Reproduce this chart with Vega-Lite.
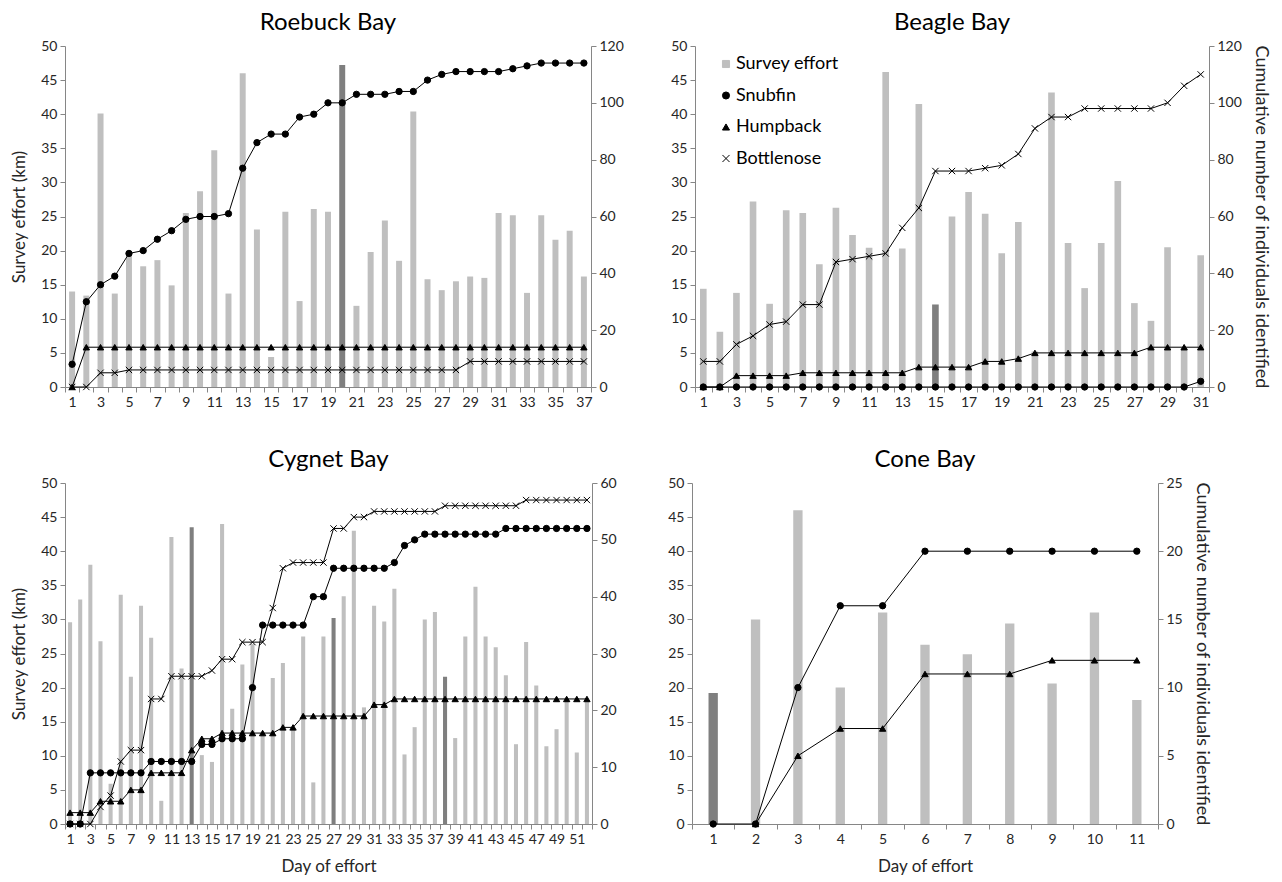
{
  "$schema": "https://vega.github.io/schema/vega-lite/v6.json",
  "background": "white",
  "padding": {"left": 10, "top": 11, "right": 4, "bottom": 4},
  "config": {
    "font": "Lato",
    "view": {"stroke": null},
    "axis": {
      "grid": false,
      "domainColor": "#868686",
      "tickColor": "#868686",
      "tickSize": 5,
      "labelColor": "#262626",
      "labelFontSize": 14,
      "labelPadding": 3,
      "titleColor": "#262626",
      "titleFontSize": 17,
      "titleFontWeight": "normal"
    },
    "title": {"fontSize": 24, "fontWeight": "normal", "color": "black", "frame": "group", "anchor": "middle", "offset": 4},
    "legend": {"labelFontSize": 18, "labelColor": "black", "symbolSize": 50, "rowPadding": 13.5, "labelOffset": 1, "symbolStrokeWidth": 1}
  },
  "datasets": {
    "roebuck": [
      {"day": 1, "effort": 14, "Snubfin": 8, "Humpback": 0, "Bottlenose": 0},
      {"day": 2, "effort": 13.4, "Snubfin": 30, "Humpback": 14, "Bottlenose": 0},
      {"day": 3, "effort": 40.1, "Snubfin": 36, "Humpback": 14, "Bottlenose": 5},
      {"day": 4, "effort": 13.7, "Snubfin": 39, "Humpback": 14, "Bottlenose": 5},
      {"day": 5, "effort": 19.2, "Snubfin": 47, "Humpback": 14, "Bottlenose": 6},
      {"day": 6, "effort": 17.7, "Snubfin": 48, "Humpback": 14, "Bottlenose": 6},
      {"day": 7, "effort": 18.6, "Snubfin": 52, "Humpback": 14, "Bottlenose": 6},
      {"day": 8, "effort": 14.9, "Snubfin": 55, "Humpback": 14, "Bottlenose": 6},
      {"day": 9, "effort": 25.5, "Snubfin": 59, "Humpback": 14, "Bottlenose": 6},
      {"day": 10, "effort": 28.7, "Snubfin": 60, "Humpback": 14, "Bottlenose": 6},
      {"day": 11, "effort": 34.7, "Snubfin": 60, "Humpback": 14, "Bottlenose": 6},
      {"day": 12, "effort": 13.7, "Snubfin": 61, "Humpback": 14, "Bottlenose": 6},
      {"day": 13, "effort": 46.0, "Snubfin": 77, "Humpback": 14, "Bottlenose": 6},
      {"day": 14, "effort": 23.1, "Snubfin": 86, "Humpback": 14, "Bottlenose": 6},
      {"day": 15, "effort": 4.4, "Snubfin": 89, "Humpback": 14, "Bottlenose": 6},
      {"day": 16, "effort": 25.7, "Snubfin": 89, "Humpback": 14, "Bottlenose": 6},
      {"day": 17, "effort": 12.6, "Snubfin": 95, "Humpback": 14, "Bottlenose": 6},
      {"day": 18, "effort": 26.1, "Snubfin": 96, "Humpback": 14, "Bottlenose": 6},
      {"day": 19, "effort": 25.7, "Snubfin": 100, "Humpback": 14, "Bottlenose": 6},
      {"day": 20, "effort": 47.2, "flagged": true, "Snubfin": 100, "Humpback": 14, "Bottlenose": 6},
      {"day": 21, "effort": 11.9, "Snubfin": 103, "Humpback": 14, "Bottlenose": 6},
      {"day": 22, "effort": 19.8, "Snubfin": 103, "Humpback": 14, "Bottlenose": 6},
      {"day": 23, "effort": 24.4, "Snubfin": 103, "Humpback": 14, "Bottlenose": 6},
      {"day": 24, "effort": 18.5, "Snubfin": 104, "Humpback": 14, "Bottlenose": 6},
      {"day": 25, "effort": 40.4, "Snubfin": 104, "Humpback": 14, "Bottlenose": 6},
      {"day": 26, "effort": 15.8, "Snubfin": 108, "Humpback": 14, "Bottlenose": 6},
      {"day": 27, "effort": 14.2, "Snubfin": 110, "Humpback": 14, "Bottlenose": 6},
      {"day": 28, "effort": 15.5, "Snubfin": 111, "Humpback": 14, "Bottlenose": 6},
      {"day": 29, "effort": 16.2, "Snubfin": 111, "Humpback": 14, "Bottlenose": 9},
      {"day": 30, "effort": 16.0, "Snubfin": 111, "Humpback": 14, "Bottlenose": 9},
      {"day": 31, "effort": 25.5, "Snubfin": 111, "Humpback": 14, "Bottlenose": 9},
      {"day": 32, "effort": 25.2, "Snubfin": 112, "Humpback": 14, "Bottlenose": 9},
      {"day": 33, "effort": 13.8, "Snubfin": 113, "Humpback": 14, "Bottlenose": 9},
      {"day": 34, "effort": 25.2, "Snubfin": 114, "Humpback": 14, "Bottlenose": 9},
      {"day": 35, "effort": 21.6, "Snubfin": 114, "Humpback": 14, "Bottlenose": 9},
      {"day": 36, "effort": 22.9, "Snubfin": 114, "Humpback": 14, "Bottlenose": 9},
      {"day": 37, "effort": 16.2, "Snubfin": 114, "Humpback": 14, "Bottlenose": 9}
    ],
    "beagle": [
      {"day": 1, "effort": 14.4, "Snubfin": 0, "Humpback": 0, "Bottlenose": 9},
      {"day": 2, "effort": 8.1, "Snubfin": 0, "Humpback": 0, "Bottlenose": 9},
      {"day": 3, "effort": 13.8, "Snubfin": 0, "Humpback": 4, "Bottlenose": 15},
      {"day": 4, "effort": 27.2, "Snubfin": 0, "Humpback": 4, "Bottlenose": 18},
      {"day": 5, "effort": 12.2, "Snubfin": 0, "Humpback": 4, "Bottlenose": 22},
      {"day": 6, "effort": 25.9, "Snubfin": 0, "Humpback": 4, "Bottlenose": 23},
      {"day": 7, "effort": 25.5, "Snubfin": 0, "Humpback": 5, "Bottlenose": 29},
      {"day": 8, "effort": 18.0, "Snubfin": 0, "Humpback": 5, "Bottlenose": 29},
      {"day": 9, "effort": 26.3, "Snubfin": 0, "Humpback": 5, "Bottlenose": 44},
      {"day": 10, "effort": 22.3, "Snubfin": 0, "Humpback": 5, "Bottlenose": 45},
      {"day": 11, "effort": 20.4, "Snubfin": 0, "Humpback": 5, "Bottlenose": 46},
      {"day": 12, "effort": 46.2, "Snubfin": 0, "Humpback": 5, "Bottlenose": 47},
      {"day": 13, "effort": 20.3, "Snubfin": 0, "Humpback": 5, "Bottlenose": 56},
      {"day": 14, "effort": 41.5, "Snubfin": 0, "Humpback": 7, "Bottlenose": 63},
      {"day": 15, "effort": 12.1, "flagged": true, "Snubfin": 0, "Humpback": 7, "Bottlenose": 76},
      {"day": 16, "effort": 25.0, "Snubfin": 0, "Humpback": 7, "Bottlenose": 76},
      {"day": 17, "effort": 28.6, "Snubfin": 0, "Humpback": 7, "Bottlenose": 76},
      {"day": 18, "effort": 25.4, "Snubfin": 0, "Humpback": 9, "Bottlenose": 77},
      {"day": 19, "effort": 19.6, "Snubfin": 0, "Humpback": 9, "Bottlenose": 78},
      {"day": 20, "effort": 24.2, "Snubfin": 0, "Humpback": 10, "Bottlenose": 82},
      {"day": 21, "effort": 5.2, "Snubfin": 0, "Humpback": 12, "Bottlenose": 91},
      {"day": 22, "effort": 43.2, "Snubfin": 0, "Humpback": 12, "Bottlenose": 95},
      {"day": 23, "effort": 21.1, "Snubfin": 0, "Humpback": 12, "Bottlenose": 95},
      {"day": 24, "effort": 14.5, "Snubfin": 0, "Humpback": 12, "Bottlenose": 98},
      {"day": 25, "effort": 21.1, "Snubfin": 0, "Humpback": 12, "Bottlenose": 98},
      {"day": 26, "effort": 30.2, "Snubfin": 0, "Humpback": 12, "Bottlenose": 98},
      {"day": 27, "effort": 12.3, "Snubfin": 0, "Humpback": 12, "Bottlenose": 98},
      {"day": 28, "effort": 9.7, "Snubfin": 0, "Humpback": 14, "Bottlenose": 98},
      {"day": 29, "effort": 20.5, "Snubfin": 0, "Humpback": 14, "Bottlenose": 100},
      {"day": 30, "effort": 5.7, "Snubfin": 0, "Humpback": 14, "Bottlenose": 106},
      {"day": 31, "effort": 19.3, "Snubfin": 2, "Humpback": 14, "Bottlenose": 110}
    ],
    "cygnet": [
      {"day": 1, "effort": 29.6, "Snubfin": 0, "Humpback": 2, "Bottlenose": 0},
      {"day": 2, "effort": 32.9, "Snubfin": 0, "Humpback": 2, "Bottlenose": 0},
      {"day": 3, "effort": 38.0, "Snubfin": 9, "Humpback": 2, "Bottlenose": 0},
      {"day": 4, "effort": 26.8, "Snubfin": 9, "Humpback": 4, "Bottlenose": 3},
      {"day": 5, "effort": 5.9, "Snubfin": 9, "Humpback": 4, "Bottlenose": 5},
      {"day": 6, "effort": 33.6, "Snubfin": 9, "Humpback": 4, "Bottlenose": 11},
      {"day": 7, "effort": 21.6, "Snubfin": 9, "Humpback": 6, "Bottlenose": 13},
      {"day": 8, "effort": 32.0, "Snubfin": 9, "Humpback": 6, "Bottlenose": 13},
      {"day": 9, "effort": 27.3, "Snubfin": 11, "Humpback": 9, "Bottlenose": 22},
      {"day": 10, "effort": 3.4, "Snubfin": 11, "Humpback": 9, "Bottlenose": 22},
      {"day": 11, "effort": 42.1, "Snubfin": 11, "Humpback": 9, "Bottlenose": 26},
      {"day": 12, "effort": 22.8, "Snubfin": 11, "Humpback": 9, "Bottlenose": 26},
      {"day": 13, "effort": 43.5, "flagged": true, "Snubfin": 11, "Humpback": 13, "Bottlenose": 26},
      {"day": 14, "effort": 10.1, "Snubfin": 14, "Humpback": 15, "Bottlenose": 26},
      {"day": 15, "effort": 9.1, "Snubfin": 14, "Humpback": 15, "Bottlenose": 27},
      {"day": 16, "effort": 44.0, "Snubfin": 15, "Humpback": 16, "Bottlenose": 29},
      {"day": 17, "effort": 16.9, "Snubfin": 15, "Humpback": 16, "Bottlenose": 29},
      {"day": 18, "effort": 23.4, "Snubfin": 15, "Humpback": 16, "Bottlenose": 32},
      {"day": 19, "effort": 26.4, "Snubfin": 24, "Humpback": 16, "Bottlenose": 32},
      {"day": 20, "effort": 13.0, "Snubfin": 35, "Humpback": 16, "Bottlenose": 32},
      {"day": 21, "effort": 21.4, "Snubfin": 35, "Humpback": 16, "Bottlenose": 38},
      {"day": 22, "effort": 23.6, "Snubfin": 35, "Humpback": 17, "Bottlenose": 45},
      {"day": 23, "effort": 14.0, "Snubfin": 35, "Humpback": 17, "Bottlenose": 46},
      {"day": 24, "effort": 27.5, "Snubfin": 35, "Humpback": 19, "Bottlenose": 46},
      {"day": 25, "effort": 6.1, "Snubfin": 40, "Humpback": 19, "Bottlenose": 46},
      {"day": 26, "effort": 27.5, "Snubfin": 40, "Humpback": 19, "Bottlenose": 46},
      {"day": 27, "effort": 30.2, "flagged": true, "Snubfin": 45, "Humpback": 19, "Bottlenose": 52},
      {"day": 28, "effort": 33.4, "Snubfin": 45, "Humpback": 19, "Bottlenose": 52},
      {"day": 29, "effort": 43.0, "Snubfin": 45, "Humpback": 19, "Bottlenose": 54},
      {"day": 30, "effort": 17.1, "Snubfin": 45, "Humpback": 19, "Bottlenose": 54},
      {"day": 31, "effort": 32.0, "Snubfin": 45, "Humpback": 21, "Bottlenose": 55},
      {"day": 32, "effort": 29.7, "Snubfin": 45, "Humpback": 21, "Bottlenose": 55},
      {"day": 33, "effort": 34.5, "Snubfin": 46, "Humpback": 22, "Bottlenose": 55},
      {"day": 34, "effort": 10.2, "Snubfin": 49, "Humpback": 22, "Bottlenose": 55},
      {"day": 35, "effort": 14.2, "Snubfin": 50, "Humpback": 22, "Bottlenose": 55},
      {"day": 36, "effort": 30.0, "Snubfin": 51, "Humpback": 22, "Bottlenose": 55},
      {"day": 37, "effort": 31.1, "Snubfin": 51, "Humpback": 22, "Bottlenose": 55},
      {"day": 38, "effort": 21.6, "flagged": true, "Snubfin": 51, "Humpback": 22, "Bottlenose": 56},
      {"day": 39, "effort": 12.6, "Snubfin": 51, "Humpback": 22, "Bottlenose": 56},
      {"day": 40, "effort": 27.5, "Snubfin": 51, "Humpback": 22, "Bottlenose": 56},
      {"day": 41, "effort": 34.8, "Snubfin": 51, "Humpback": 22, "Bottlenose": 56},
      {"day": 42, "effort": 27.5, "Snubfin": 51, "Humpback": 22, "Bottlenose": 56},
      {"day": 43, "effort": 25.9, "Snubfin": 51, "Humpback": 22, "Bottlenose": 56},
      {"day": 44, "effort": 21.8, "Snubfin": 52, "Humpback": 22, "Bottlenose": 56},
      {"day": 45, "effort": 11.7, "Snubfin": 52, "Humpback": 22, "Bottlenose": 56},
      {"day": 46, "effort": 26.7, "Snubfin": 52, "Humpback": 22, "Bottlenose": 57},
      {"day": 47, "effort": 20.3, "Snubfin": 52, "Humpback": 22, "Bottlenose": 57},
      {"day": 48, "effort": 11.4, "Snubfin": 52, "Humpback": 22, "Bottlenose": 57},
      {"day": 49, "effort": 13.9, "Snubfin": 52, "Humpback": 22, "Bottlenose": 57},
      {"day": 50, "effort": 18.0, "Snubfin": 52, "Humpback": 22, "Bottlenose": 57},
      {"day": 51, "effort": 10.5, "Snubfin": 52, "Humpback": 22, "Bottlenose": 57},
      {"day": 52, "effort": 18.0, "Snubfin": 52, "Humpback": 22, "Bottlenose": 57}
    ],
    "cone": [
      {"day": 1, "effort": 19.2, "flagged": true, "Snubfin": 0},
      {"day": 2, "effort": 30.0, "Snubfin": 0, "Humpback": 0},
      {"day": 3, "effort": 46.0, "Snubfin": 10, "Humpback": 5},
      {"day": 4, "effort": 20.0, "Snubfin": 16, "Humpback": 7},
      {"day": 5, "effort": 31.0, "Snubfin": 16, "Humpback": 7},
      {"day": 6, "effort": 26.3, "Snubfin": 20, "Humpback": 11},
      {"day": 7, "effort": 24.9, "Snubfin": 20, "Humpback": 11},
      {"day": 8, "effort": 29.4, "Snubfin": 20, "Humpback": 11},
      {"day": 9, "effort": 20.6, "Snubfin": 20, "Humpback": 12},
      {"day": 10, "effort": 31.0, "Snubfin": 20, "Humpback": 12},
      {"day": 11, "effort": 18.2, "Snubfin": 20, "Humpback": 12}
    ]
  },
  "resolve": {"scale": {"shape": "independent", "fill": "independent", "stroke": "independent"}},
  "spacing": 39,
  "vconcat": [
    {
      "spacing": 46,
      "resolve": {"scale": {"shape": "independent", "fill": "independent", "stroke": "independent"}},
      "hconcat": [
        {
          "title": {"text": "Roebuck Bay"},
          "width": 526,
          "height": 341,
          "data": {"name": "roebuck"},
          "resolve": {"scale": {"y": "independent"}},
          "layer": [
            {
              "mark": {"type": "bar", "width": {"band": 0.42}},
              "encoding": {
                "x": {"field": "day", "type": "ordinal", "scale": {"paddingInner": 0, "paddingOuter": 0},
                      "axis": {"title": null, "labelAngle": 0, "tickBand": "extent", "labelExpr": "datum.value % 2 == 1 ? datum.label : ''"}},
                "y": {"field": "effort", "type": "quantitative", "scale": {"domain": [0, 50], "nice": false},
                      "axis": {"orient": "left", "values": [0, 5, 10, 15, 20, 25, 30, 35, 40, 45, 50], "title": "Survey effort (km)", "titlePadding": 12}},
                "color": {"condition": {"test": "datum.flagged", "value": "#7f7f7f"}, "value": "#bfbfbf"}
              }
            },
            {
              "transform": [
                {"fold": ["Snubfin", "Humpback", "Bottlenose"], "as": ["species", "count"]},
                {"filter": "isValid(datum.count)"}
              ],
              "encoding": {
                "x": {"field": "day", "type": "ordinal"},
                "y": {"field": "count", "type": "quantitative", "scale": {"domain": [0, 120], "nice": false},
                      "axis": {"orient": "right", "values": [0, 20, 40, 60, 80, 100, 120], "title": null}}
              },
              "layer": [
                {"mark": {"type": "line", "color": "black", "strokeWidth": 1}, "encoding": {"detail": {"field": "species"}}},
                {
                  "mark": {"type": "point", "filled": true, "opacity": 1, "size": 40, "strokeWidth": 1},
                  "encoding": {
                    "shape": {"field": "species", "type": "nominal", "legend": null,
                              "scale": {"domain": ["Survey effort", "Snubfin", "Humpback", "Bottlenose"], "range": ["square", "circle", "triangle-up", "M-1,-1L1,1M-1,1L1,-1"]}},
                    "fill": {"field": "species", "type": "nominal", "legend": null,
                             "scale": {"domain": ["Survey effort", "Snubfin", "Humpback", "Bottlenose"], "range": ["#bfbfbf", "black", "black", "transparent"]}},
                    "stroke": {"field": "species", "type": "nominal", "legend": null,
                               "scale": {"domain": ["Survey effort", "Snubfin", "Humpback", "Bottlenose"], "range": ["#bfbfbf", "black", "black", "black"]}}
                  }
                }
              ]
            }
          ]
        },
        {
          "title": {"text": "Beagle Bay"},
          "width": 514,
          "height": 341,
          "data": {"name": "beagle"},
          "resolve": {"scale": {"y": "independent"}},
          "layer": [
            {
              "mark": {"type": "bar", "width": {"band": 0.4}},
              "encoding": {
                "x": {"field": "day", "type": "ordinal", "scale": {"paddingInner": 0, "paddingOuter": 0},
                      "axis": {"title": null, "labelAngle": 0, "tickBand": "extent", "labelExpr": "datum.value % 2 == 1 ? datum.label : ''"}},
                "y": {"field": "effort", "type": "quantitative", "scale": {"domain": [0, 50], "nice": false},
                      "axis": {"orient": "left", "values": [0, 5, 10, 15, 20, 25, 30, 35, 40, 45, 50], "title": null}},
                "color": {"condition": {"test": "datum.flagged", "value": "#7f7f7f"}, "value": "#bfbfbf"}
              }
            },
            {
              "transform": [
                {"fold": ["Snubfin", "Humpback", "Bottlenose"], "as": ["species", "count"]},
                {"filter": "isValid(datum.count)"}
              ],
              "encoding": {
                "x": {"field": "day", "type": "ordinal"},
                "y": {"field": "count", "type": "quantitative", "scale": {"domain": [0, 120], "nice": false},
                      "axis": {"orient": "right", "values": [0, 20, 40, 60, 80, 100, 120], "title": "Cumulative number of individuals identified", "titlePadding": 10, "titleFontSize": 18}}
              },
              "layer": [
                {"mark": {"type": "line", "color": "black", "strokeWidth": 1}, "encoding": {"detail": {"field": "species"}}},
                {
                  "mark": {"type": "point", "filled": true, "opacity": 1, "size": 40, "strokeWidth": 1},
                  "encoding": {
                    "shape": {"field": "species", "type": "nominal",
                              "legend": {"title": null, "orient": "none", "legendX": 22, "legendY": 9},
                              "scale": {"domain": ["Survey effort", "Snubfin", "Humpback", "Bottlenose"], "range": ["square", "circle", "triangle-up", "M-1,-1L1,1M-1,1L1,-1"]}},
                    "fill": {"field": "species", "type": "nominal",
                             "legend": {"title": null, "orient": "none", "legendX": 22, "legendY": 9},
                             "scale": {"domain": ["Survey effort", "Snubfin", "Humpback", "Bottlenose"], "range": ["#bfbfbf", "black", "black", "transparent"]}},
                    "stroke": {"field": "species", "type": "nominal",
                               "legend": {"title": null, "orient": "none", "legendX": 22, "legendY": 9},
                               "scale": {"domain": ["Survey effort", "Snubfin", "Humpback", "Bottlenose"], "range": ["#bfbfbf", "black", "black", "black"]}}
                  }
                }
              ]
            }
          ]
        }
      ]
    },
    {
      "spacing": 50,
      "resolve": {"scale": {"shape": "independent", "fill": "independent", "stroke": "independent"}},
      "hconcat": [
        {
          "title": {"text": "Cygnet Bay"},
          "width": 527,
          "height": 341,
          "data": {"name": "cygnet"},
          "resolve": {"scale": {"y": "independent"}},
          "layer": [
            {
              "mark": {"type": "bar", "width": {"band": 0.4}},
              "encoding": {
                "x": {"field": "day", "type": "ordinal", "scale": {"paddingInner": 0, "paddingOuter": 0},
                      "axis": {"title": "Day of effort", "labelAngle": 0, "tickBand": "extent", "titlePadding": 12, "labelExpr": "datum.value % 2 == 1 ? datum.label : ''"}},
                "y": {"field": "effort", "type": "quantitative", "scale": {"domain": [0, 50], "nice": false},
                      "axis": {"orient": "left", "values": [0, 5, 10, 15, 20, 25, 30, 35, 40, 45, 50], "title": "Survey effort (km)", "titlePadding": 12}},
                "color": {"condition": {"test": "datum.flagged", "value": "#7f7f7f"}, "value": "#bfbfbf"}
              }
            },
            {
              "transform": [
                {"fold": ["Snubfin", "Humpback", "Bottlenose"], "as": ["species", "count"]},
                {"filter": "isValid(datum.count)"}
              ],
              "encoding": {
                "x": {"field": "day", "type": "ordinal"},
                "y": {"field": "count", "type": "quantitative", "scale": {"domain": [0, 60], "nice": false},
                      "axis": {"orient": "right", "values": [0, 10, 20, 30, 40, 50, 60], "title": null}}
              },
              "layer": [
                {"mark": {"type": "line", "color": "black", "strokeWidth": 1}, "encoding": {"detail": {"field": "species"}}},
                {
                  "mark": {"type": "point", "filled": true, "opacity": 1, "size": 40, "strokeWidth": 1},
                  "encoding": {
                    "shape": {"field": "species", "type": "nominal", "legend": null,
                              "scale": {"domain": ["Survey effort", "Snubfin", "Humpback", "Bottlenose"], "range": ["square", "circle", "triangle-up", "M-1,-1L1,1M-1,1L1,-1"]}},
                    "fill": {"field": "species", "type": "nominal", "legend": null,
                             "scale": {"domain": ["Survey effort", "Snubfin", "Humpback", "Bottlenose"], "range": ["#bfbfbf", "black", "black", "transparent"]}},
                    "stroke": {"field": "species", "type": "nominal", "legend": null,
                               "scale": {"domain": ["Survey effort", "Snubfin", "Humpback", "Bottlenose"], "range": ["#bfbfbf", "black", "black", "black"]}}
                  }
                }
              ]
            }
          ]
        },
        {
          "title": {"text": "Cone Bay"},
          "width": 466,
          "height": 341,
          "data": {"name": "cone"},
          "resolve": {"scale": {"y": "independent"}},
          "layer": [
            {
              "mark": {"type": "bar", "width": {"band": 0.22}},
              "encoding": {
                "x": {"field": "day", "type": "ordinal", "scale": {"paddingInner": 0, "paddingOuter": 0},
                      "axis": {"title": "Day of effort", "labelAngle": 0, "tickBand": "extent", "titlePadding": 12}},
                "y": {"field": "effort", "type": "quantitative", "scale": {"domain": [0, 50], "nice": false},
                      "axis": {"orient": "left", "values": [0, 5, 10, 15, 20, 25, 30, 35, 40, 45, 50], "title": null}},
                "color": {"condition": {"test": "datum.flagged", "value": "#7f7f7f"}, "value": "#bfbfbf"}
              }
            },
            {
              "transform": [
                {"fold": ["Snubfin", "Humpback", "Bottlenose"], "as": ["species", "count"]},
                {"filter": "isValid(datum.count)"}
              ],
              "encoding": {
                "x": {"field": "day", "type": "ordinal"},
                "y": {"field": "count", "type": "quantitative", "scale": {"domain": [0, 25], "nice": false},
                      "axis": {"orient": "right", "values": [0, 5, 10, 15, 20, 25], "title": "Cumulative number of individuals identified", "titlePadding": 10, "titleFontSize": 18}}
              },
              "layer": [
                {"mark": {"type": "line", "color": "black", "strokeWidth": 1}, "encoding": {"detail": {"field": "species"}}},
                {
                  "mark": {"type": "point", "filled": true, "opacity": 1, "size": 40, "strokeWidth": 1},
                  "encoding": {
                    "shape": {"field": "species", "type": "nominal", "legend": null,
                              "scale": {"domain": ["Survey effort", "Snubfin", "Humpback", "Bottlenose"], "range": ["square", "circle", "triangle-up", "M-1,-1L1,1M-1,1L1,-1"]}},
                    "fill": {"field": "species", "type": "nominal", "legend": null,
                             "scale": {"domain": ["Survey effort", "Snubfin", "Humpback", "Bottlenose"], "range": ["#bfbfbf", "black", "black", "transparent"]}},
                    "stroke": {"field": "species", "type": "nominal", "legend": null,
                               "scale": {"domain": ["Survey effort", "Snubfin", "Humpback", "Bottlenose"], "range": ["#bfbfbf", "black", "black", "black"]}}
                  }
                }
              ]
            }
          ]
        }
      ]
    }
  ]
}
